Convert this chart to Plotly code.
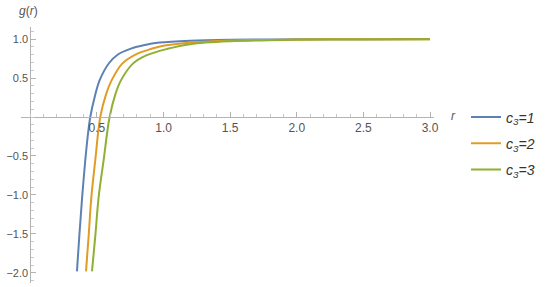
import plotly.graph_objects as go

# Values
r_c1 = [0.35, 0.368, 0.388, 0.4125, 0.43, 0.45, 0.485, 0.52, 0.59, 0.66, 0.75, 0.85, 0.97, 1.2, 1.5, 2.0, 2.5, 3.0]
g_c1 = [-1.98, -1.52, -1.05, -0.555, -0.26, 0.0, 0.27, 0.47, 0.69, 0.805, 0.875, 0.92, 0.955, 0.98, 0.992, 0.997, 0.999, 1.0]

r_c2 = [0.418, 0.438, 0.4575, 0.4875, 0.525, 0.57, 0.61, 0.69, 0.80, 0.91, 1.0, 1.25, 1.5, 2.0, 2.5, 3.0]
g_c2 = [-1.98, -1.52, -1.04, -0.555, 0.0, 0.30, 0.47, 0.685, 0.81, 0.875, 0.915, 0.958, 0.982, 0.994, 0.998, 0.999]

r_c3 = [0.463, 0.488, 0.512, 0.55, 0.595, 0.64, 0.68, 0.77, 0.87, 1.03, 1.2, 1.5, 2.0, 2.5, 3.0]
g_c3 = [-1.98, -1.52, -1.04, -0.555, 0.0, 0.30, 0.47, 0.685, 0.79, 0.875, 0.935, 0.972, 0.99, 0.996, 0.998]

names = ["<i>c<sub>3</sub>=1</i>", "<i>c<sub>3</sub>=2</i>", "<i>c<sub>3</sub>=3</i>"]
colors = ["#5E81B5", "#E19C24", "#8FB032"]

x_ticks = [0.5, 1.0, 1.5, 2.0, 2.5, 3.0]
x_tick_text = ["0.5", "1.0", "1.5", "2.0", "2.5", "3.0"]
y_ticks = [-2.0, -1.5, -1.0, -0.5, 0.5, 1.0]
y_tick_text = ["\u22122.0", "\u22121.5", "\u22121.0", "\u22120.5", "0.5", "1.0"]

xr = [-0.07, 3.03]
yr = [-2.13, 1.155]
FONT = "Liberation Sans, Arial, sans-serif"

fig = go.Figure()
for i, (rr, gg) in enumerate([(r_c1, g_c1), (r_c2, g_c2), (r_c3, g_c3)]):
    fig.add_trace(go.Scatter(
        x=rr, y=gg, mode="lines", name=names[i], legendgroup=str(i),
        line=dict(color=colors[i], width=2, shape="spline", smoothing=1.0),
    ))

xpos = (0 - yr[0]) / (yr[1] - yr[0])
ypos = (0 - xr[0]) / (xr[1] - xr[0])

fig.update_layout(
    width=545, height=287,
    margin=dict(l=20.7, r=111, t=26.7, b=4, autoexpand=False),
    paper_bgcolor="white", plot_bgcolor="white",
    showlegend=True,
    legend=dict(
        x=1.0775, y=0.545, xanchor="left", yanchor="middle",
        font=dict(family=FONT, size=14, color="#333333"),
        tracegroupgap=5, itemwidth=30, bgcolor="rgba(0,0,0,0)",
    ),
    xaxis=dict(
        range=xr, anchor="free", position=xpos, automargin=False,
        showgrid=False, zeroline=False, showline=True, linecolor="#b3b3b3", linewidth=1,
        tickvals=x_ticks, ticktext=x_tick_text, ticks="inside", ticklen=5,
        tickcolor="#b3b3b3", tickfont=dict(family=FONT, size=12, color="#555555"),
        minor=dict(dtick=0.1, tick0=0, ticks="inside", ticklen=3, tickcolor="#c8c8c8", showgrid=False),
    ),
    yaxis=dict(
        range=yr, anchor="free", position=ypos, automargin=False,
        showgrid=False, zeroline=False, showline=True, linecolor="#b3b3b3", linewidth=1,
        tickvals=y_ticks, ticktext=y_tick_text, ticks="inside", ticklen=5,
        tickcolor="#b3b3b3", tickfont=dict(family=FONT, size=11, color="#555555"),
        ticklabelstandoff=0,
        minor=dict(dtick=0.1, tick0=0, ticks="inside", ticklen=3, tickcolor="#c8c8c8", showgrid=False),
    ),
    annotations=[
        dict(text="<i>g</i>(<i>r</i>)", xref="paper", yref="paper", x=ypos, y=1.0,
             xanchor="right", yanchor="bottom", yshift=7, xshift=10, showarrow=False,
             font=dict(family=FONT, size=12, color="#555555")),
        dict(text="<i>r</i>", xref="paper", yref="paper", x=1.0, y=xpos,
             xanchor="left", yanchor="middle", xshift=15, yshift=1, showarrow=False,
             font=dict(family=FONT, size=12, color="#555555")),
    ],
)

fig.write_html("out.html", config={"displayModeBar": False},
               post_script="document.body.style.margin='0';")
